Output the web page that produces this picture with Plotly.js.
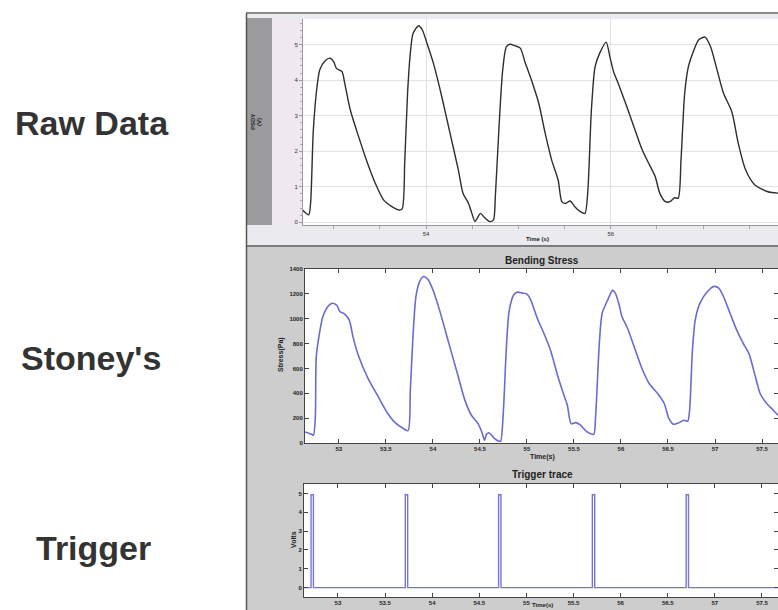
<!DOCTYPE html>
<html>
<head>
<meta charset="utf-8">
<script src="https://cdn.plot.ly/plotly-3.0.1.min.js"></script>
<style>html,body{margin:0;padding:0;background:#fff;}#chart{width:778px;height:610px;}</style>
</head>
<body>
<div id="chart"></div>
<script>
// ---------- data ----------
var rawTime = [52.66,52.73,52.75,52.78,52.82,52.85,52.91,52.96,53.00,53.03,
  53.09,53.12,53.18,53.27,53.36,53.45,53.54,53.63,53.70,53.74,
  53.77,53.80,53.83,53.86,53.92,53.96,54.01,54.08,54.17,54.26,
  54.35,54.40,54.46,54.49,54.53,54.56,54.59,54.63,54.69,54.73,
  54.75,54.79,54.83,54.87,54.91,54.96,55.02,55.07,55.14,55.22,
  55.29,55.36,55.43,55.47,55.51,55.56,55.61,55.67,55.72,55.75,
  55.79,55.83,55.88,55.95,55.99,56.03,56.08,56.16,56.25,56.34,
  56.41,56.48,56.53,56.59,56.64,56.69,56.73,56.76,56.80,56.84,
  56.90,56.95,57.02,57.08,57.15,57.22,57.31,57.38,57.46,57.56,
  57.70,57.81];
var rawVolts = [0.35,0.21,0.53,2.60,3.82,4.29,4.55,4.62,4.52,4.33,
  4.24,3.91,3.16,2.41,1.71,1.10,0.63,0.44,0.35,0.37,
  1.75,3.63,4.76,5.32,5.53,5.41,5.04,4.47,3.54,2.50,
  1.47,0.82,0.53,0.30,0.02,0.14,0.25,0.14,0.02,0.07,
  0.72,2.69,4.29,4.94,5.01,4.97,4.90,4.52,4.01,3.35,
  2.50,1.75,1.19,0.58,0.53,0.60,0.44,0.30,0.25,0.82,
  3.16,4.38,4.76,5.07,4.66,4.24,3.91,3.35,2.69,2.04,
  1.66,1.29,0.82,0.58,0.58,0.69,0.68,1.75,3.63,4.38,
  4.85,5.13,5.21,4.94,4.29,3.63,3.11,2.22,1.47,1.05,
  0.86,0.82];

var stressTime = [52.64,52.71,52.73,52.75,52.76,52.80,52.83,52.89,52.93,52.98,
  53.01,53.06,53.11,53.15,53.20,53.31,53.42,53.52,53.59,53.66,
  53.735,53.76,53.79,53.82,53.86,53.90,53.95,54.00,54.07,54.16,
  54.27,54.34,54.41,54.48,54.52,54.55,54.57,54.60,54.65,54.70,
  54.72,54.75,54.78,54.81,54.86,54.90,54.95,55.00,55.04,55.11,
  55.18,55.25,55.33,55.40,55.43,55.47,55.52,55.57,55.64,55.71,
  55.73,55.77,55.80,55.86,55.91,55.94,55.98,56.01,56.07,56.14,
  56.23,56.30,56.39,56.46,56.51,56.56,56.61,56.67,56.71,56.73,
  56.76,56.79,56.84,56.92,56.99,57.04,57.09,57.16,57.23,57.30,
  57.36,57.43,57.48,57.55,57.62,57.67];
var stressPa = [89,70,62,210,695,910,1018,1104,1125,1106,
  1058,1039,990,856,721,520,371,237,170,129,
  100,425,883,1179,1300,1340,1313,1233,1071,829,
  533,345,223,156,89,22,70,81,40,16,
  13,264,748,1058,1193,1214,1206,1198,1152,1004,
  883,748,533,371,304,156,164,143,89,70,
  210,802,1044,1152,1228,1206,1112,1018,923,775,
  587,479,398,318,197,151,161,183,175,264,
  748,990,1125,1219,1260,1246,1179,1044,910,802,
  721,533,398,318,264,223];

var pulseStart = [52.715, 53.715, 54.705, 55.700, 56.695];
var pulseEnd   = [52.740, 53.740, 54.730, 55.725, 56.720];
var triggerHigh = 4.93;
var triggerLow = 0;
var triggerSpan = [52.64, 57.67];

var panelLabels = ["Raw Data", "Stoney's", "Trigger"];

// ---------- build trigger step trace from pulses ----------
var trigX = [triggerSpan[0]], trigY = [triggerLow];
for (var i = 0; i < pulseStart.length; i++) {
  trigX.push(pulseStart[i], pulseStart[i], pulseEnd[i], pulseEnd[i]);
  trigY.push(triggerLow, triggerHigh, triggerHigh, triggerLow);
}
trigX.push(triggerSpan[1]); trigY.push(triggerLow);

// ---------- helpers (pixel -> paper) ----------
var W = 778, H = 610;
function px(x){ return x / W; }
function py(y){ return 1 - y / H; }
function rect(x0,y0,x1,y1,fill){
  return {type:'rect', xref:'paper', yref:'paper', x0:px(x0), x1:px(x1), y0:py(y1), y1:py(y0),
          fillcolor:fill, line:{width:0}, layer:'below'};
}
function line(x0,y0,x1,y1,color,w){
  return {type:'line', xref:'paper', yref:'paper', x0:px(x0), x1:px(x1), y0:py(y0), y1:py(y1),
          line:{color:color, width:w}, layer:'above'};
}
function ann(text,x,y,size,opts){
  var a = {text:text, xref:'paper', yref:'paper', x:px(x), y:py(y), showarrow:false,
           xanchor:'center', yanchor:'middle',
           font:{family:'Liberation Sans, Arial, sans-serif', size:size, color:'#222', weight:'bold'}};
  for (var k in (opts||{})) a[k] = opts[k];
  return a;
}

var tickFont = {family:'Liberation Sans, Arial, sans-serif', size:6, color:'#222', weight:'bold'};

var traces = [
  {x: rawTime, y: rawVolts, xaxis:'x', yaxis:'y', mode:'lines',
   line:{color:'#2e2e2e', width:1.4, shape:'spline', smoothing:0.7}, hoverinfo:'skip'},
  {x: stressTime, y: stressPa, xaxis:'x2', yaxis:'y2', mode:'lines',
   line:{color:'#6b6bd2', width:1.6, shape:'spline', smoothing:0.7}, hoverinfo:'skip'},
  {x: trigX, y: trigY, xaxis:'x3', yaxis:'y3', mode:'lines',
   line:{color:'#7676dc', width:1.4}, hoverinfo:'skip'}
];

var matlabX = {ticks:'inside', ticklen:4, tickcolor:'#444', showline:true, linecolor:'#444', linewidth:1,
  mirror:'ticks', showgrid:false, zeroline:false, dtick:0.5, tick0:53, tickfont:tickFont};
var matlabY = {ticks:'inside', ticklen:4, tickcolor:'#444', showline:true, linecolor:'#444', linewidth:1,
  mirror:'ticks', showgrid:false, zeroline:false, tickfont:tickFont};

function merge(a,b){ var o={}; for (var k in a) o[k]=a[k]; for (var k2 in b) o[k2]=b[k2]; return o; }

var labelFont = {family:'Liberation Sans, Arial, sans-serif', size:34, color:'#333', weight:'bold'};

var layout = {
  width: W, height: H,
  margin:{l:0,r:0,t:0,b:0},
  paper_bgcolor:'#ffffff', plot_bgcolor:'rgba(0,0,0,0)',
  showlegend:false,
  xaxis:{domain:[px(303),1], range:[52.668,57.81], anchor:'y',
    dtick:2, tick0:54, ticks:'outside', ticklen:3, tickcolor:'#999',
    showline:true, linecolor:'#999', showgrid:true, gridcolor:'#e2e2e2', zeroline:false,
    minor:{dtick:0.5, tick0:54, ticks:'outside', ticklen:3, tickcolor:'#aaa', showgrid:false},
    tickfont:{family:'Liberation Sans, Arial, sans-serif', size:6, color:'#333'}},
  yaxis:{domain:[py(225),py(19)], range:[-0.076,5.72], anchor:'x',
    dtick:1, ticks:'outside', ticklen:3, tickcolor:'#999',
    showline:true, linecolor:'#999', showgrid:true, gridcolor:'#e2e2e2', zeroline:false,
    minor:{dtick:0.2, ticks:'outside', ticklen:2, tickcolor:'#aaa', showgrid:false},
    tickfont:{family:'Liberation Sans, Arial, sans-serif', size:6, color:'#333'}},
  xaxis2: merge(matlabX, {domain:[px(305),1], range:[52.64,57.67], anchor:'y2'}),
  yaxis2: merge(matlabY, {domain:[py(443),py(269)], range:[0,1400], dtick:200, anchor:'x2'}),
  xaxis3: merge(matlabX, {domain:[px(304),1], range:[52.64,57.67], anchor:'y3'}),
  yaxis3: merge(matlabY, {domain:[py(597),py(484)], range:[-0.5,5.5], dtick:1, anchor:'x3'}),
  shapes:[
    rect(247,247,778,610,'#cdcdcd'),
    rect(247,14,778,246,'#ebeaee'),
    rect(247,18,272,225,'#9b9b9d'),
    rect(272,18,303,225,'#efe8f0'),
    rect(303,19,778,225,'#ffffff'),
    rect(305,269,778,443,'#ffffff'),
    rect(304,484,778,597,'#ffffff'),
    line(246.5,13,246.5,610,'#555',1.5),
    line(246,13,778,13,'#666',1.5),
    line(246,246,778,246,'#555',1.5)
  ],
  annotations:[
    ann(panelLabels[0], 92, 123, 34, {font:labelFont}),
    ann(panelLabels[1], 91, 358, 34, {font:labelFont}),
    ann(panelLabels[2], 93, 548, 34, {font:labelFont}),
    ann('PSDY', 253, 122, 6, {textangle:-90}),
    ann('(V)', 259, 122, 6, {textangle:-90}),
    ann('Time (s)', 537, 239, 6),
    ann('Bending Stress', 542, 260, 10),
    ann('Stress(Pa)', 281, 355, 7, {textangle:-90}),
    ann('Time(s)', 542, 457, 7),
    ann('Trigger trace', 542, 474, 10),
    ann('Volts', 293, 540, 7, {textangle:-90}),
    ann('Time(s)', 542, 605, 6)
  ]
};

Plotly.newPlot('chart', traces, layout, {staticPlot:true, displayModeBar:false});
</script>
</body>
</html>
